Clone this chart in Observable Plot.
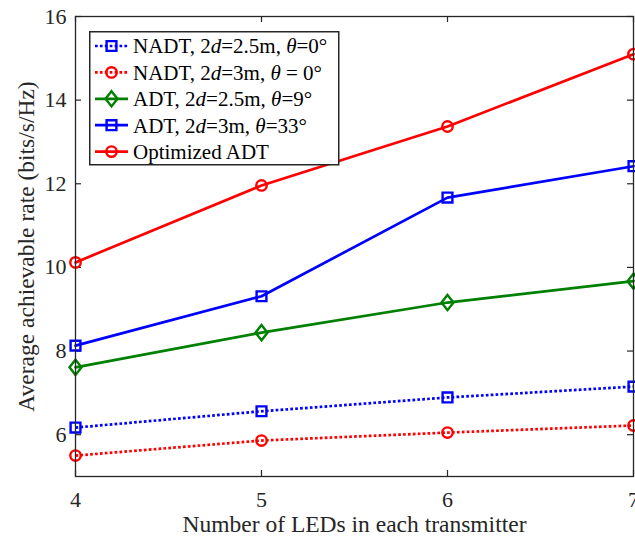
<!DOCTYPE html>
<html>
<head>
<meta charset="utf-8">
<script src="https://cdn.jsdelivr.net/npm/d3@7"></script>
<script src="https://cdn.jsdelivr.net/npm/@observablehq/plot@0.6"></script>
<style>
  html, body { margin: 0; padding: 0; background: #fff; }
  #wrap { position: relative; width: 635px; height: 537px; }
  #legend { position: absolute; left: 89px; top: 31px; }
</style>
</head>
<body>
<div id="wrap"></div>
<script>
// ---- data ----
const leds = [4, 5, 6, 7];
const nadt25 = [6.17, 6.56, 6.89, 7.15];
const nadt3 = [5.50, 5.86, 6.05, 6.22];
const adt25 = [7.61, 8.44, 9.16, 9.67];
const adt3 = [8.13, 9.31, 11.67, 12.42];
const optimized = [10.12, 11.96, 13.37, 15.10];
const seriesNames = [
  "NADT, 2d=2.5m, θ=0°",
  "NADT, 2d=3m, θ = 0°",
  "ADT, 2d=2.5m, θ=9°",
  "ADT, 2d=3m, θ=33°",
  "Optimized ADT"
];
const seriesColors = ["#0000ff", "#ff0000", "#008000", "#0000ff", "#ff0000"];
const seriesSymbols = ["square", "circle", "diamond", "square", "circle"];
const seriesDotted = [true, true, false, false, false];
const xTicks = [4, 5, 6, 7];
const yTicks = [6, 8, 10, 12, 14, 16];
const xLabel = "Number of LEDs in each transmitter";
const yLabel = "Average achievable rate (bits/s/Hz)";

const allValues = [nadt25, nadt3, adt25, adt3, optimized];
const rows = [];
allValues.forEach((vals, si) => vals.forEach((v, i) => rows.push({s: si, x: leds[i], y: v})));

const W = 635, H = 537;
const mL = 75, mR = 2, mT = 16, mB = 61;
const innerH = H - mT - mB, innerW = W - mL - mR;
const font = "'Liberation Serif', 'Times New Roman', serif";
const axisColor = "#262626";
const tickLen = 6;
const dash = "2.7 2.2";
const lineW = 2.7;
const markW = 2.4;

// custom marker shapes (fixed size, in px)
const squareSym = {draw(ctx) { const s = 4.9; ctx.moveTo(-s, -s); ctx.lineTo(s, -s); ctx.lineTo(s, s); ctx.lineTo(-s, s); ctx.closePath(); }};
const circleSym = {draw(ctx) { const r = 5.2; ctx.moveTo(r, 0); ctx.arc(0, 0, r, 0, 2 * Math.PI); }};
const diamondSym = {draw(ctx) { const w = 6, h = 7.6; ctx.moveTo(0, -h); ctx.lineTo(w, 0); ctx.lineTo(0, h); ctx.lineTo(-w, 0); ctx.closePath(); }};
const symObj = {square: squareSym, circle: circleSym, diamond: diamondSym};

const marks = [];
seriesNames.forEach((name, si) => {
  const d = rows.filter(r => r.s === si);
  marks.push(Plot.line(d, {
    x: "x", y: "y", stroke: seriesColors[si], strokeWidth: lineW,
    strokeLinecap: seriesDotted[si] ? "butt" : "round",
    strokeDasharray: seriesDotted[si] ? dash : undefined
  }));
  marks.push(Plot.dot(d, {
    x: "x", y: "y", stroke: seriesColors[si], strokeWidth: markW,
    symbol: symObj[seriesSymbols[si]], fill: "none", r: 5
  }));
});

const chart = Plot.plot({
  width: W, height: H,
  marginLeft: mL, marginRight: mR, marginTop: mT, marginBottom: mB,
  style: {fontFamily: font, fontSize: "22px", color: axisColor, background: "white", overflow: "visible"},
  x: {domain: [4, 7]},
  y: {domain: [5, 16]},
  marks: [
    // inward ticks on all four sides
    Plot.tickX(xTicks, {x: d => d, stroke: axisColor, strokeWidth: 1.2, insetTop: innerH - tickLen}),
    Plot.tickX(xTicks, {x: d => d, stroke: axisColor, strokeWidth: 1.2, insetBottom: innerH - tickLen}),
    Plot.tickY(yTicks, {y: d => d, stroke: axisColor, strokeWidth: 1.2, insetRight: innerW - tickLen}),
    Plot.tickY(yTicks, {y: d => d, stroke: axisColor, strokeWidth: 1.2, insetLeft: innerW - tickLen}),
    ...marks,
    Plot.frame({stroke: axisColor, strokeWidth: 1.3}),
    Plot.axisX({ticks: xTicks, tickSize: 0, tickPadding: 15, fontSize: 22, label: xLabel, labelAnchor: "center", labelOffset: 55, labelArrow: "none", tickFormat: d => String(d)}),
    Plot.axisY({ticks: yTicks, tickSize: 0, tickPadding: 9, fontSize: 22, label: yLabel, labelAnchor: "center", labelOffset: 58, labelArrow: "none", tickFormat: d => String(d)})
  ]
});
document.getElementById("wrap").appendChild(chart);
// axis label font size
d3.select(chart).selectAll("g[aria-label='x-axis label'] text, g[aria-label='y-axis label'] text").attr("font-size", 23.5);

// ---- legend (inside plot, upper left) ----
const LW = 249, LH = 133, rowH = 26.4, row0 = 15;
const leg = d3.select("#wrap").append("svg")
  .attr("id", "legend").attr("width", LW + 2).attr("height", LH + 2)
  .style("font-family", font);
leg.append("rect").attr("x", 0.75).attr("y", 0.75).attr("width", LW).attr("height", LH)
  .attr("fill", "white").attr("stroke", axisColor).attr("stroke-width", 1.5);
seriesNames.forEach((name, si) => {
  const cy = row0 + si * rowH;
  const g = leg.append("g");
  g.append("line").attr("x1", 6).attr("x2", 39).attr("y1", cy).attr("y2", cy)
    .attr("stroke", seriesColors[si])
    .attr("stroke-width", lineW)
    .attr("stroke-dasharray", seriesDotted[si] ? dash : null);
  const p = d3.path();
  symObj[seriesSymbols[si]].draw(p);
  g.append("path").attr("transform", `translate(22.5,${cy})`)
    .attr("d", p.toString())
    .attr("fill", "none").attr("stroke", seriesColors[si]).attr("stroke-width", markW);
  const t = g.append("text").attr("x", 44).attr("y", cy).attr("dy", "0.35em")
    .attr("font-size", 21).attr("fill", "#000");
  const parts = name.split(/(d(?==)|θ)/);
  parts.forEach(part => {
    if (!part) return;
    const ts = t.append("tspan").text(part);
    if (part === "d" || part === "θ") ts.attr("font-style", "italic");
  });
});
</script>
</body>
</html>
